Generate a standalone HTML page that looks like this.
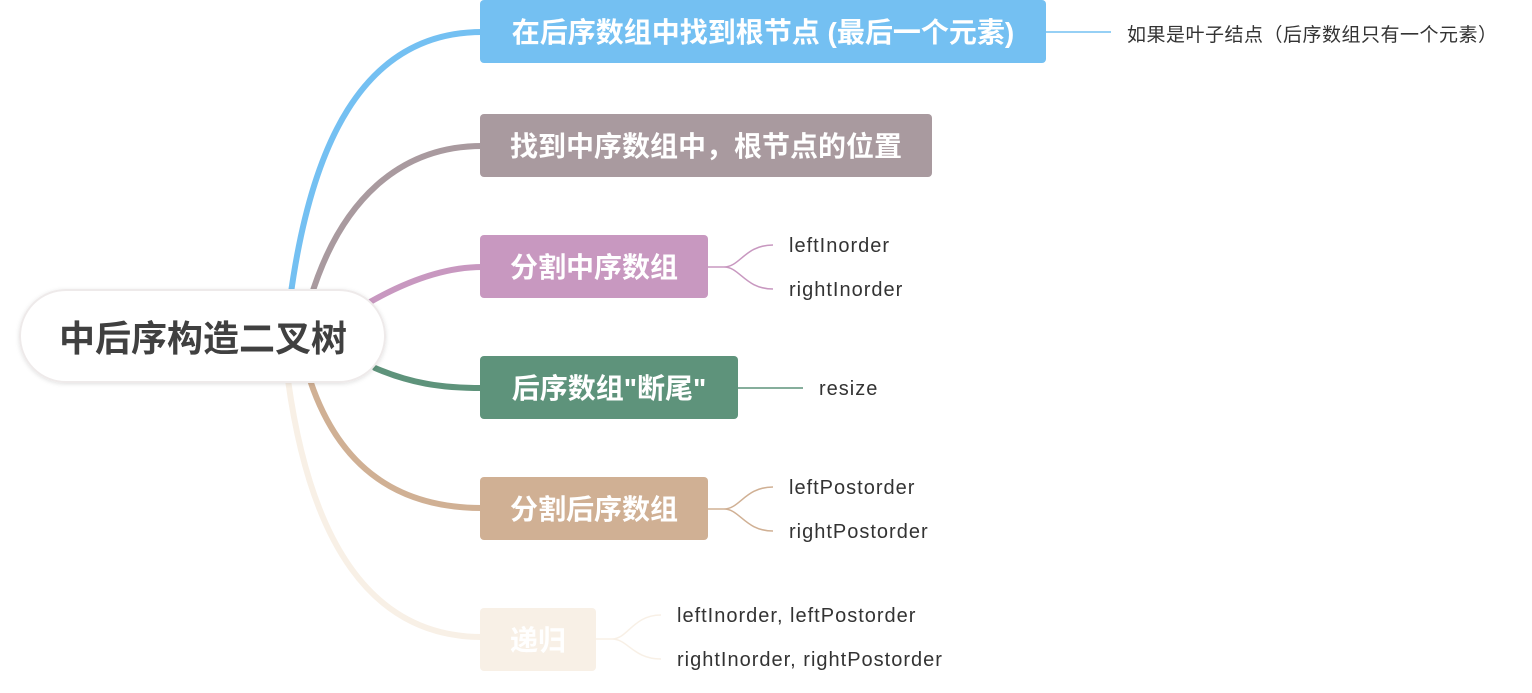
<!DOCTYPE html>
<html><head><meta charset="utf-8"><style>
html,body{margin:0;padding:0;background:#fff;}
svg{display:block}
.n{font-family:"Liberation Sans","Noto Sans CJK SC",sans-serif;font-weight:bold;font-size:28px;fill:#fff}
.s{font-family:"Liberation Sans","Noto Sans CJK SC",sans-serif;font-size:20px;letter-spacing:1px;fill:#333}
.c{font-family:"Liberation Sans","Noto Sans CJK SC",sans-serif;font-size:19px;letter-spacing:0.5px;fill:#333}
</style></head><body>
<svg width="1532" height="693" viewBox="0 0 1532 693">
<defs><filter id="sh" x="-10%" y="-20%" width="120%" height="140%"><feDropShadow dx="0" dy="1" stdDeviation="2" flood-color="#000" flood-opacity="0.12"/></filter></defs>
<g fill="none" stroke-width="6" stroke-linecap="round">
<path d="M290 300 C310 150 360 32 482 32" stroke="#74c0f2"/>
<path d="M310 300 C340 200 400 146 482 146" stroke="#a99a9f"/>
<path d="M370 302 C400 285 440 267 482 267" stroke="#c898c0"/>
<path d="M375 368 C410 383 440 388 482 388" stroke="#5e937b"/>
<path d="M310 380 C340 470 400 508 482 508" stroke="#d0b094"/>
<path d="M288 380 C310 540 370 637 482 637" stroke="#f8f0e6"/>
</g>
<rect x="20" y="290" width="365" height="92" rx="46" fill="#fff" stroke="#eeeaea" stroke-width="2" filter="url(#sh)"/>
<text x="203" y="351" text-anchor="middle" font-family="Liberation Sans,Noto Sans CJK SC,sans-serif" font-weight="bold" font-size="36" fill="#404040">中后序构造二叉树</text>

<rect x="480" y="0" width="566" height="63" rx="4" fill="#74c0f2"/>
<text class="n" x="763" y="42" text-anchor="middle">在后序数组中找到根节点 (最后一个元素)</text>
<rect x="480" y="114" width="452" height="63" rx="4" fill="#a99a9f"/>
<text class="n" x="706" y="156" text-anchor="middle">找到中序数组中，根节点的位置</text>
<rect x="480" y="235" width="228" height="63" rx="4" fill="#c898c0"/>
<text class="n" x="594" y="277" text-anchor="middle">分割中序数组</text>
<rect x="480" y="356" width="258" height="63" rx="4" fill="#5e937b"/>
<text class="n" x="609" y="398" text-anchor="middle">后序数组"断尾"</text>
<rect x="480" y="477" width="228" height="63" rx="4" fill="#d0b094"/>
<text class="n" x="594" y="519" text-anchor="middle">分割后序数组</text>
<rect x="480" y="608" width="116" height="63" rx="4" fill="#f8f0e6"/>
<text class="n" x="538" y="650" text-anchor="middle">递归</text>

<g fill="none" stroke-width="1.5">
<path d="M1046 32 H1111" stroke="#74c0f2"/>
<path d="M708 267 H724 C740 267 745 245 773 245 M724 267 C740 267 745 289 773 289" stroke="#c898c0"/>
<path d="M738 388 H803" stroke="#5e937b"/>
<path d="M708 509 H724 C740 509 745 487 773 487 M724 509 C740 509 745 531 773 531" stroke="#d0b094"/>
<path d="M596 639 H612 C628 639 633 615 661 615 M612 639 C628 639 633 659 661 659" stroke="#f8f0e6"/>
</g>
<text class="c" x="1127" y="41">如果是叶子结点（后序数组只有一个元素）</text>
<text class="s" x="789" y="252">leftInorder</text>
<text class="s" x="789" y="296">rightInorder</text>
<text class="s" x="819" y="395">resize</text>
<text class="s" x="789" y="494">leftPostorder</text>
<text class="s" x="789" y="538">rightPostorder</text>
<text class="s" x="677" y="622">leftInorder, leftPostorder</text>
<text class="s" x="677" y="666">rightInorder, rightPostorder</text>
</svg>
</body></html>
